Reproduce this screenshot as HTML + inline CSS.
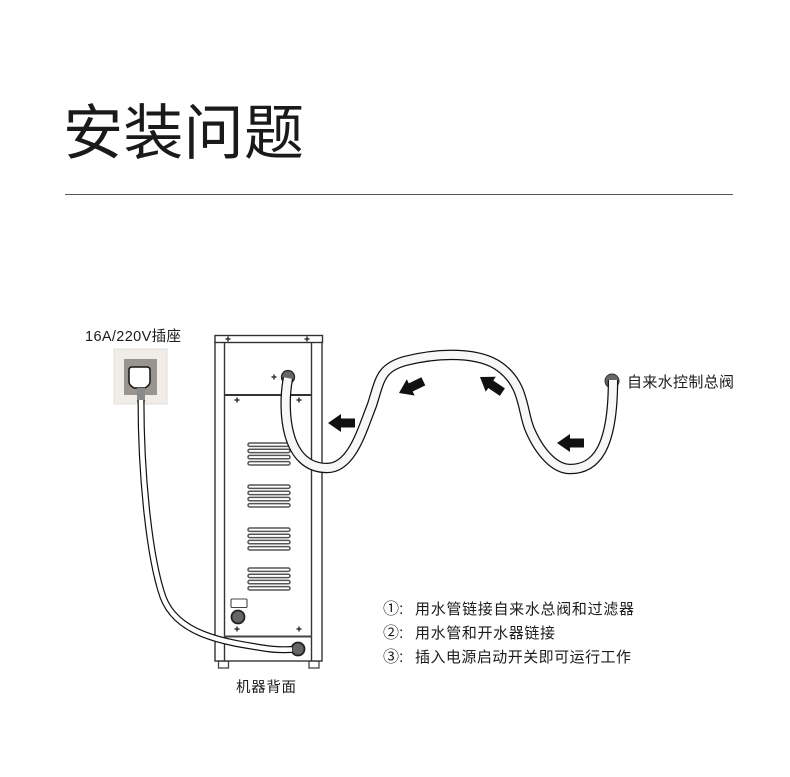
<!DOCTYPE html>
<html><head><meta charset="utf-8"><style>
html,body{margin:0;padding:0;background:#fff}
svg{display:block}
text{font-family:"Liberation Sans","Noto Sans CJK SC",sans-serif;fill:#1c1c1c}
</style></head><body>
<svg width="790" height="777" viewBox="0 0 790 777" xmlns="http://www.w3.org/2000/svg">
<defs>
<polygon id="a" points="0,0 13,-9 13,-4.500 27,-4.500 27,4.500 13,4.500 13,9" fill="#111"/>
<g id="v">
<rect x="248" y="0" width="42" height="3.400" rx="1.700" fill="#fff" stroke="#555" stroke-width="1.500"/>
<rect x="248" y="6.200" width="42" height="3.400" rx="1.700" fill="#fff" stroke="#555" stroke-width="1.500"/>
<rect x="248" y="12.400" width="42" height="3.400" rx="1.700" fill="#fff" stroke="#555" stroke-width="1.500"/>
<rect x="248" y="18.600" width="42" height="3.400" rx="1.700" fill="#fff" stroke="#555" stroke-width="1.500"/>
</g>
<g id="p"><path d="M-2.500 0H2.500M0 -2.500V2.500" stroke="#333" stroke-width="1.500"/></g>
</defs>
<rect width="790" height="777" fill="#fff"/>

<text x="63" y="154" font-size="60" font-weight="400" textLength="241" style="fill:#1a1a1a">安装问题</text>
<rect x="65" y="194" width="668" height="1" fill="#555"/>

<text x="85" y="341" font-size="14.500" textLength="96">16A/220V插座</text>
<text x="627" y="387" font-size="15" textLength="107">自来水控制总阀</text>
<text x="236" y="692" font-size="14.500" textLength="60">机器背面</text>
<text x="383" y="614" font-size="16">①:</text>
<text x="383" y="638" font-size="16">②:</text>
<text x="383" y="662" font-size="16">③:</text>
<text x="415" y="614" font-size="15" textLength="219">用水管链接自来水总阀和过滤器</text>
<text x="415" y="638" font-size="15" textLength="140">用水管和开水器链接</text>
<text x="415" y="662" font-size="15" textLength="216">插入电源启动开关即可运行工作</text>

<!-- socket -->
<rect x="114" y="349" width="53" height="55" fill="#f0ede9" stroke="#e2dfdb" stroke-width="1"/>
<rect x="124" y="359" width="33" height="36" fill="#9a9491"/>
<path d="M129 370q0-3 3-3h15q3 0 3 3v12q0 3-5 6h-11q-5-3-5-6z" fill="#fff" stroke="#111" stroke-width="1.500"/>
<rect x="137" y="388" width="8" height="14" fill="#8a8a8a"/>

<!-- cabinet -->
<g fill="#fff" stroke="#444" stroke-width="1.300">
<rect x="218.500" y="661" width="10" height="7"/>
<rect x="309" y="661" width="10" height="7"/>
</g>
<rect x="215" y="342" width="107" height="319" fill="#fff" stroke="#333" stroke-width="1.400"/>
<rect x="215" y="335.500" width="107.500" height="7" fill="#fff" stroke="#333" stroke-width="1.400"/>
<path d="M224.500 342V661M311.500 342V661" stroke="#333" stroke-width="1.400" fill="none"/>
<rect x="224" y="394" width="88" height="2" fill="#333"/>
<rect x="224" y="635.500" width="88" height="2" fill="#444"/>
<use href="#p" x="228" y="339"/><use href="#p" x="307" y="339"/>
<use href="#p" x="274" y="377"/><use href="#p" x="237" y="400"/><use href="#p" x="299" y="400"/>
<use href="#p" x="237" y="629"/><use href="#p" x="299" y="629"/>
<use href="#v" y="443"/><use href="#v" y="485"/><use href="#v" y="528"/><use href="#v" y="568"/>
<rect x="231" y="599" width="16" height="8.500" rx="1" fill="#fff" stroke="#444" stroke-width="1.100"/>
<circle cx="238" cy="617" r="6.500" fill="#666" stroke="#222" stroke-width="1.800"/>

<!-- cord -->
<circle cx="298" cy="649" r="6.500" fill="#666" stroke="#222" stroke-width="1.800"/>
<path d="M141 400C141 480 150 560 163 597C177 635 225 642 263 648C275 650 283 650 292 649.500" fill="none" stroke="#111" stroke-width="7"/>
<path d="M141 400C141 480 150 560 163 597C177 635 225 642 263 648C275 650 283 650 292 649.500" fill="none" stroke="#fff" stroke-width="4.600"/>

<!-- hose ends -->
<circle cx="288" cy="377" r="6.500" fill="#666" stroke="#222" stroke-width="1.300"/>
<circle cx="612" cy="381" r="7" fill="#666" stroke="#333" stroke-width="1"/>

<!-- hose -->
<path d="M288 378C282 410 285 468 327 468C352 468 362 430 372 405C380 380 380 368 405 361C440 352 480 352 500 367C525 385 522 412 530 430C540 453 555 469 570 469C595 469 613 450 613 380" fill="none" stroke="#111" stroke-width="10.500"/>
<path d="M288 378C282 410 285 468 327 468C352 468 362 430 372 405C380 380 380 368 405 361C440 352 480 352 500 367C525 385 522 412 530 430C540 453 555 469 570 469C595 469 613 450 613 380" fill="none" stroke="#f7f7f7" stroke-width="8"/>

<!-- arrows -->
<use href="#a" transform="translate(328,423)"/>
<use href="#a" transform="translate(557,443)"/>
<use href="#a" transform="translate(399,393) rotate(-25.600)"/>
<use href="#a" transform="translate(480,377) rotate(34)"/>
</svg>
</body></html>
